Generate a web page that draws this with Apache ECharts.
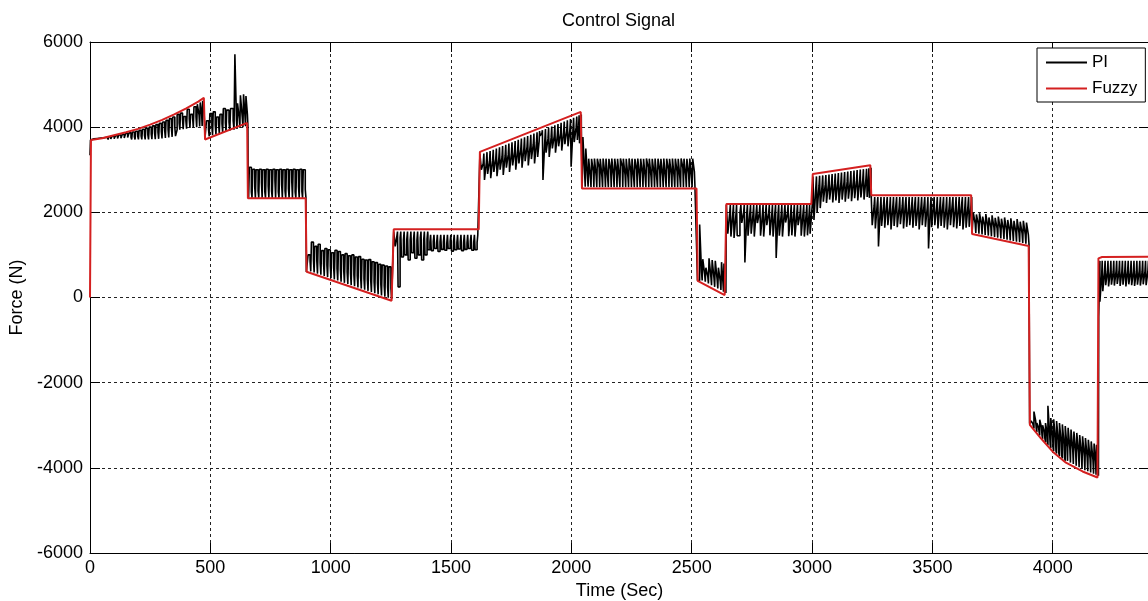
<!DOCTYPE html>
<html><head><meta charset="utf-8">
<script src="https://cdn.jsdelivr.net/npm/echarts@6/dist/echarts.min.js"></script>
<style>html,body{margin:0;padding:0;background:#fff}#c{width:1148px;height:601px}</style>
</head><body><div id="c"></div>
<script>
// ---- axis settings ----
const xMin = 0, xMax = 4400, xStep = 500;
const yMin = -6000, yMax = 6000, yStep = 2000;
const seriesNames = ['PI', 'Fuzzy'];

// ---- Fuzzy controller output [time, force] ----
const fuzzy = [[0,0],[4,3700],[50,3740],[100,3810],[150,3880],[200,3960],[250,4060],[300,4170],[350,4300],[400,4440],[450,4600],[473,4690],[478,3710],[653,4100],[656,2330],[896,2330],[900,605],[1253,-75],[1262,1600],[1615,1600],[1620,3420],[2039,4358],[2044,2561],[2520,2561],[2525,390],[2637,58],[2644,2193],[2997,2193],[3003,2900],[3242,3108],[3246,2404],[3661,2404],[3665,1490],[3900,1208],[3905,-2990],[3950,-3300],[4000,-3620],[4055,-3880],[4124,-4085],[4186,-4226],[4190,920],[4205,950],[4400,957]];

// ---- PI controller output: teeth [time, band edge, spike tip, gap depth] ----
const piStart = [[0,3340],[2,3700]];
const piA1 = [[8,3700,3725,3705],[22,3705,3735,3712],[36,3705,3745,3715],[50,3706,3750,3716],[64,3708,3765,3720],[78,3708,3775,3725],[92,3708,3790,3730],[106,3710,3800,3735],[120,3710,3815,3740],[134,3710,3830,3748],[148,3710,3850,3755],[162,3712,3865,3765],[176,3712,3885,3775],[190,3712,3905,3785],[204,3712,3925,3795],[218,3714,3950,3805],[232,3714,3975,3820],[246,3716,4000,3840],[260,3720,4030,3860],[274,3726,4060,3880],[288,3735,4090,3900],[302,3745,4120,3920],[316,3758,4160,3945],[330,3772,4200,3970],[344,3790,4240,4000]];
const piA1b = [[362,3940,4300,4100],[376,3950,4330,4180],[390,3965,4250,4150],[404,3980,4420,4200],[418,3990,4300,4220],[432,4000,4480,4250],[446,4015,4540,4280],[458,4030,4580,4300],[468,4045,4620,4350]];
const piT1 = [[478,3760]];
const piA2 = [[484,3785,4150,3950],[498,3810,4320,4020],[512,3830,4360,4050],[526,3850,4240,4060],[540,3870,4300,4080],[554,3895,4440,4100],[568,3915,4400,4120],[584,3940,4440,4150],[602,3960,5710,4170],[613,3985,4560,4200],[625,4000,4750,4220],[638,4020,4770,4250],[648,4040,4730,4300]];
const piT2 = [[657,2900],[659,2340]];
const piB = [[662,2340,3060,2480],[676,2340,3010,2600],[690,2340,3000,2500],[704,2340,3010,2700],[718,2340,3000,2480],[732,2340,3010,2620],[746,2340,3000,2500],[760,2340,3010,2750],[774,2340,3000,2480],[788,2340,3010,2650],[802,2340,3000,2500],[816,2340,3010,2560],[830,2340,3000,2720],[844,2340,3010,2480],[858,2340,3000,2600],[872,2340,3010,2490],[886,2340,3000,2540]];
const piT3 = [[899,600]];
const piC = [[906,613,1000,850],[920,586,1300,900],[934,560,1200,850],[948,533,1250,820],[962,506,1100,800],[976,479,1150,760],[990,452,1120,740],[1004,425,1050,700],[1018,398,1110,680],[1032,371,1080,650],[1046,344,1000,620],[1060,317,1030,600],[1074,290,980,570],[1088,263,1000,540],[1102,236,950,510],[1116,209,960,480],[1130,182,900,450],[1144,155,880,420],[1158,128,890,400],[1172,101,840,370],[1186,74,820,340],[1200,47,780,310],[1214,20,760,280],[1228,-7,740,250],[1242,-34,720,220]];
const piT4 = [[1256,0],[1262,1550]];
const piD1 = [[1268,1550,1200,1450],[1280,1550,250,1400],[1294,1550,950,1350],[1308,1550,1000,1380],[1322,1550,880,1350],[1336,1550,1050,1380],[1350,1550,920,1350],[1364,1550,1000,1400],[1378,1550,880,1350],[1392,1550,1000,1380]];
const piD2 = [[1404,1470,1120,1300],[1418,1470,1100,1320],[1432,1470,1150,1290],[1446,1470,1080,1310],[1460,1470,1130,1300],[1474,1470,1110,1280],[1488,1470,1150,1320],[1502,1470,1090,1300],[1516,1470,1120,1290],[1530,1470,1140,1310],[1544,1470,1100,1300],[1558,1470,1130,1280],[1572,1470,1150,1320],[1586,1470,1110,1300],[1600,1470,1120,1290]];
const piT5 = [[1616,1470],[1620,3370]];
const piE = [[1626,3383,3000,3150],[1639,3413,2760,3170],[1652,3442,2900,3200],[1665,3471,2800,3220],[1678,3500,2950,3250],[1691,3529,2850,3280],[1704,3558,3000,3300],[1717,3587,2880,3330],[1730,3616,3050,3360],[1743,3646,2950,3390],[1756,3675,3100,3420],[1769,3704,3000,3450],[1782,3733,3150,3480],[1795,3762,3050,3510],[1808,3791,3200,3540],[1821,3820,3100,3570],[1834,3849,3250,3600],[1847,3878,3150,3630],[1860,3908,3300,3660],[1870,3930,3800,3850],[1882,3957,2760,3700],[1895,3986,3400,3730],[1908,4015,3300,3760],[1921,4044,3500,3790],[1934,4073,3400,3820],[1947,4102,3550,3850],[1960,4132,3450,3880],[1973,4161,3600,3910],[1986,4190,3550,3940],[1999,4219,3070,3970],[2012,4248,3650,4000],[2025,4277,3700,4030],[2034,4297,3620,4050]];
const piT6 = [[2042,3620],[2045,2600]];
const piF = [[2048,2600,3770,2900],[2060,2600,3500,2800],[2072,2590,3260,2800],[2084,2590,3255,2950],[2096,2590,3265,2850],[2108,2590,3260,3050],[2120,2590,3255,2820],[2132,2590,3265,2900],[2144,2590,3260,2780],[2156,2590,3255,3000],[2168,2590,3265,2850],[2180,2590,3260,2950],[2192,2590,3255,2800],[2204,2590,3265,3080],[2216,2590,3260,2870],[2228,2590,3255,2820],[2240,2590,3265,2950],[2252,2590,3260,2780],[2264,2590,3255,3000],[2276,2590,3265,2850],[2288,2590,3260,2900],[2300,2590,3255,2800],[2312,2590,3265,3050],[2324,2590,3260,2830],[2336,2590,3255,2920],[2348,2590,3265,2780],[2360,2590,3260,2980],[2372,2590,3255,2850],[2384,2590,3265,2800],[2396,2590,3260,3000],[2408,2590,3255,2870],[2420,2590,3265,2820],[2432,2590,3260,2950],[2444,2590,3255,2790],[2456,2590,3265,3050],[2468,2590,3260,2850],[2480,2590,3255,2900],[2492,2590,3265,2800],[2504,2590,3260,2950]];
const piT7 = [[2520,2580],[2524,400]];
const piG = [[2533,400,1716,600],[2546,370,900,550],[2559,330,700,500],[2572,290,920,480],[2585,250,880,450],[2598,210,860,420],[2611,175,700,380],[2624,135,830,340],[2634,105,800,300]];
const piT8 = [[2644,2170]];
const piH = [[2650,2170,1500,1980],[2663,2170,1430,1960],[2676,2170,1400,1950],[2689,2170,1450,1980],[2708,2170,1750,2000],[2721,2170,820,1980],[2734,2170,1450,2000],[2747,2170,1500,1960],[2760,2170,1430,2000],[2773,2170,1750,1980],[2786,2170,1450,1950],[2799,2170,1430,2000],[2812,2170,1700,1980],[2825,2170,1460,1960],[2838,2170,1430,2000],[2851,2170,930,1980],[2864,2170,1450,1950],[2877,2170,1430,2000],[2890,2170,1760,1980],[2903,2170,1440,1960],[2916,2170,1460,2000],[2929,2170,1430,1980],[2942,2170,1700,1950],[2955,2170,1450,2000],[2968,2170,1430,1980],[2981,2170,1460,1960],[2992,2170,1500,2000]];
const piT9 = [[3002,2170],[3004,2840]];
const piI = [[3008,2844,1820,2600],[3021,2856,2000,2620],[3034,2867,2100,2640],[3047,2878,2250,2650],[3060,2890,2220,2660],[3073,2901,2300,2670],[3086,2912,2230,2680],[3099,2923,2280,2690],[3112,2935,2220,2700],[3125,2946,2300,2710],[3138,2957,2250,2720],[3151,2969,2320,2730],[3164,2980,2260,2740],[3177,2991,2330,2750],[3190,3003,2280,2760],[3203,3014,2350,2770],[3216,3025,2300,2780],[3229,3036,2360,2790],[3238,3044,2340,2800]];
const piT10 = [[3246,2380]];
const piJ = [[3250,2360,1700,2150],[3263,2360,1620,2200],[3276,2360,1200,2120],[3289,2360,1680,2150],[3302,2360,1640,2200],[3315,2360,1700,2120],[3328,2360,1600,2150],[3341,2360,1680,2200],[3354,2360,1650,2120],[3367,2360,1720,2150],[3380,2360,1620,2200],[3393,2360,1660,2120],[3406,2360,1700,2150],[3419,2360,1640,2200],[3432,2360,1680,2120],[3445,2360,1600,2150],[3458,2360,1700,2200],[3471,2360,1660,2120],[3484,2360,1150,2150],[3497,2360,1650,2200],[3510,2360,1700,2120],[3523,2360,1620,2150],[3536,2360,1680,2200],[3549,2360,1640,2120],[3562,2360,1600,2150],[3575,2360,1700,2200],[3588,2360,1650,2120],[3601,2360,1620,2150],[3614,2360,1680,2200],[3627,2360,1600,2120],[3640,2360,1640,2150],[3653,2360,1660,2200]];
const piT11 = [[3665,1520]];
const piK = [[3670,1514,1990,1734],[3683,1498,1950,1718],[3696,1483,1980,1703],[3709,1467,1900,1687],[3722,1452,1960,1672],[3735,1436,1880,1656],[3748,1420,1930,1640],[3761,1405,1870,1625],[3774,1389,1900,1609],[3787,1374,1850,1594],[3800,1358,1880,1578],[3813,1342,1820,1562],[3826,1327,1860,1547],[3839,1311,1800,1531],[3852,1296,1840,1516],[3865,1280,1780,1500],[3878,1264,1800,1484],[3891,1249,1760,1469]];
const piT12 = [[3904,-2960]];
const piL = [[3910,-2994,-2900,-2960],[3922,-3077,-2680,-2900],[3934,-3160,-2950,-3050],[3946,-3242,-2870,-3050],[3958,-3321,-3000,-3150],[3970,-3398,-2950,-3150],[3980,-3462,-2545,-3200],[3992,-3539,-2830,-3250],[4004,-3609,-2860,-3300],[4016,-3666,-2900,-3350],[4028,-3723,-2950,-3400],[4040,-3779,-2980,-3450],[4052,-3836,-3020,-3500],[4064,-3877,-3060,-3550],[4076,-3912,-3100,-3580],[4088,-3948,-3150,-3620],[4100,-3984,-3180,-3650],[4112,-4019,-3230,-3700],[4124,-4055,-3260,-3730],[4136,-4082,-3300,-3760],[4148,-4109,-3340,-3790],[4160,-4137,-3380,-3820],[4172,-4164,-3430,-3850],[4182,-4187,-3460,-3880]];
const piT13 = [[4191,-450]];
const piM = [[4196,860,-100,500],[4208,860,150,600],[4220,860,290,600],[4232,860,260,610],[4244,860,300,600],[4256,860,280,620],[4268,860,320,600],[4280,860,270,610],[4292,860,300,600],[4304,860,260,620],[4316,860,310,600],[4328,860,290,610],[4340,860,270,600],[4352,860,300,620],[4364,860,280,600],[4376,860,310,610],[4388,860,290,600],[4400,860,300,620]];

// ---- build the PI polyline from the teeth ----
function teeth(list) {
  const pts = [];
  for (let i = 0; i < list.length; i++) {
    const [t, base, tip, gap] = list[i];
    const s = i < list.length - 1 ? list[i + 1][0] - t : t - list[i - 1][0];
    pts.push([t, base], [t, tip], [t + 0.6 * s, tip], [t + 0.6 * s, gap], [t + 0.8 * s, gap], [t + 0.8 * s, base]);
  }
  return pts;
}
const piData = [].concat(
  piStart, teeth(piA1), teeth(piA1b), piT1, teeth(piA2), piT2, teeth(piB), piT3,
  teeth(piC), piT4, teeth(piD1), teeth(piD2), piT5, teeth(piE), piT6, teeth(piF), piT7,
  teeth(piG), piT8, teeth(piH), piT9, teeth(piI), piT10, teeth(piJ), piT11, teeth(piK), piT12,
  teeth(piL), piT13, teeth(piM)
);

const FONT = '"Liberation Sans", Arial, Helvetica, sans-serif';
const chart = echarts.init(document.getElementById('c'), null, { renderer: 'canvas' });
const axisLine = { show: true, onZero: false, lineStyle: { color: '#000', width: 1 } };
const axisTick = { show: true, inside: true, length: 10, lineStyle: { color: '#000', width: 1 } };
const grid = { show: true, lineStyle: { color: '#222', width: 1, type: [3, 3] } };
const plain = v => String(v);
chart.setOption({
  animation: false,
  backgroundColor: '#fff',
  color: ['#000000', '#d42020'],
  title: {
    text: 'Control Signal', left: 562, top: 12, padding: 0,
    textStyle: { fontFamily: FONT, fontSize: 18, fontWeight: 'normal', color: '#000' }
  },
  legend: {
    data: seriesNames, orient: 'vertical', left: 1037, top: 48,
    padding: [6, 8, 5, 8], itemGap: 9, itemWidth: 41, itemHeight: 14,
    borderColor: '#000', borderWidth: 1, backgroundColor: '#fff', borderRadius: 0,
    itemStyle: { opacity: 0 },
    textStyle: { fontFamily: FONT, fontSize: 17, color: '#000' }
  },
  grid: { left: 90, top: 42, width: 1059, height: 511, containLabel: false, outerBoundsMode: 'none' },
  xAxis: [
    { type: 'value', min: xMin, max: xMax, interval: xStep, position: 'bottom',
      name: 'Time (Sec)', nameLocation: 'middle', nameGap: 27,
      nameTextStyle: { fontFamily: FONT, fontSize: 18, color: '#000' },
      axisLine, axisTick,
      axisLabel: { fontFamily: FONT, fontSize: 18, color: '#000', margin: 6, showMaxLabel: false, formatter: plain },
      splitLine: grid },
    { type: 'value', min: xMin, max: xMax, interval: xStep, position: 'top',
      axisLine, axisTick, axisLabel: { show: false }, splitLine: { show: false } }
  ],
  yAxis: [
    { type: 'value', min: yMin, max: yMax, interval: yStep, position: 'left',
      name: 'Force (N)', nameLocation: 'middle', nameGap: 54,
      nameTextStyle: { fontFamily: FONT, fontSize: 18, color: '#000' },
      axisLine, axisTick,
      axisLabel: { fontFamily: FONT, fontSize: 18, color: '#000', margin: 7, formatter: plain },
      splitLine: grid },
    { type: 'value', min: yMin, max: yMax, interval: yStep, position: 'right',
      axisLine, axisTick, axisLabel: { show: false }, splitLine: { show: false } }
  ],
  series: [
    { name: 'PI', type: 'line', data: piData, xAxisIndex: 0, yAxisIndex: 0,
      symbol: 'none', showSymbol: false, lineStyle: { color: '#000', width: 1.6 },
      itemStyle: { color: '#000' }, z: 2 },
    { name: 'Fuzzy', type: 'line', data: fuzzy, xAxisIndex: 0, yAxisIndex: 0,
      symbol: 'none', showSymbol: false, lineStyle: { color: '#d42020', width: 2 },
      itemStyle: { color: '#d42020' }, z: 3 }
  ]
});
</script>
</body></html>
